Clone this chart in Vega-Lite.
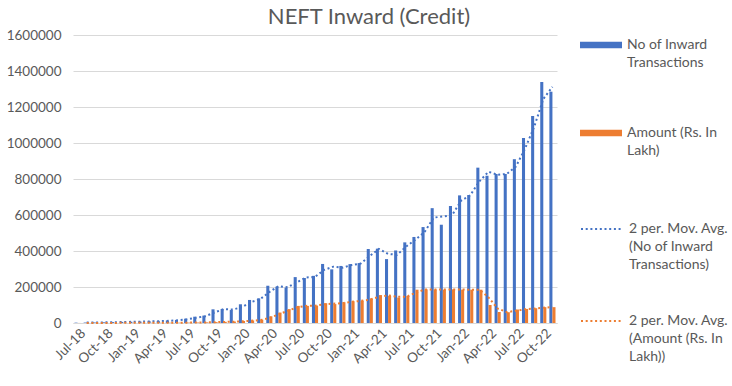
{
  "$schema": "https://vega.github.io/schema/vega-lite/v6.json",
  "width": 484,
  "height": 288,
  "autosize": "none",
  "padding": {"left": 73, "top": 35, "right": 175, "bottom": 63},
  "background": "white",
  "title": {"text": "NEFT Inward (Credit)", "font": "Lato", "fontSize": 22, "fontWeight": "normal", "color": "#595959", "dx": 54, "offset": 0, "dy": 5},
  "datasets": {
    "d": [
      {"m": "Jul-18", "t": 2000, "a": 300},
      {"m": "Aug-18", "t": 2500, "a": 400, "tm": 2250, "am": 350},
      {"m": "Sep-18", "t": 3000, "a": 500, "tm": 2750, "am": 450},
      {"m": "Oct-18", "t": 4000, "a": 600, "tm": 3500, "am": 550},
      {"m": "Nov-18", "t": 5000, "a": 700, "tm": 4500, "am": 650},
      {"m": "Dec-18", "t": 6000, "a": 800, "tm": 5500, "am": 750},
      {"m": "Jan-19", "t": 7000, "a": 900, "tm": 6500, "am": 850},
      {"m": "Feb-19", "t": 8000, "a": 1000, "tm": 7500, "am": 950},
      {"m": "Mar-19", "t": 10000, "a": 1200, "tm": 9000, "am": 1100},
      {"m": "Apr-19", "t": 11000, "a": 1300, "tm": 10500, "am": 1250},
      {"m": "May-19", "t": 13000, "a": 1500, "tm": 12000, "am": 1400},
      {"m": "Jun-19", "t": 17000, "a": 1800, "tm": 15000, "am": 1650},
      {"m": "Jul-19", "t": 24000, "a": 2200, "tm": 20500, "am": 2000},
      {"m": "Aug-19", "t": 35000, "a": 2800, "tm": 29500, "am": 2500},
      {"m": "Sep-19", "t": 41000, "a": 3500, "tm": 38000, "am": 3150},
      {"m": "Oct-19", "t": 76000, "a": 5000, "tm": 58500, "am": 4250},
      {"m": "Nov-19", "t": 78000, "a": 6500, "tm": 77000, "am": 5750},
      {"m": "Dec-19", "t": 72000, "a": 8000, "tm": 75000, "am": 7250},
      {"m": "Jan-20", "t": 104000, "a": 11000, "tm": 88000, "am": 9500},
      {"m": "Feb-20", "t": 128000, "a": 14000, "tm": 116000, "am": 12500},
      {"m": "Mar-20", "t": 137000, "a": 18000, "tm": 132500, "am": 16000},
      {"m": "Apr-20", "t": 207000, "a": 37000, "tm": 172000, "am": 27500},
      {"m": "May-20", "t": 202000, "a": 58000, "tm": 204500, "am": 47500},
      {"m": "Jun-20", "t": 196000, "a": 77000, "tm": 199000, "am": 67500},
      {"m": "Jul-20", "t": 255000, "a": 95000, "tm": 225500, "am": 86000},
      {"m": "Aug-20", "t": 250000, "a": 95000, "tm": 252500, "am": 95000},
      {"m": "Sep-20", "t": 262000, "a": 97000, "tm": 256000, "am": 96000},
      {"m": "Oct-20", "t": 328000, "a": 110000, "tm": 295000, "am": 103500},
      {"m": "Nov-20", "t": 298000, "a": 105000, "tm": 313000, "am": 107500},
      {"m": "Dec-20", "t": 317000, "a": 115000, "tm": 307500, "am": 110000},
      {"m": "Jan-21", "t": 327000, "a": 121000, "tm": 322000, "am": 118000},
      {"m": "Feb-21", "t": 333000, "a": 124000, "tm": 330000, "am": 122500},
      {"m": "Mar-21", "t": 411000, "a": 136000, "tm": 372000, "am": 130000},
      {"m": "Apr-21", "t": 413000, "a": 155000, "tm": 412000, "am": 145500},
      {"m": "May-21", "t": 355000, "a": 151000, "tm": 384000, "am": 153000},
      {"m": "Jun-21", "t": 403000, "a": 141000, "tm": 379000, "am": 146000},
      {"m": "Jul-21", "t": 448000, "a": 150000, "tm": 425500, "am": 145500},
      {"m": "Aug-21", "t": 478000, "a": 185000, "tm": 463000, "am": 167500},
      {"m": "Sep-21", "t": 533000, "a": 187000, "tm": 505500, "am": 186000},
      {"m": "Oct-21", "t": 638000, "a": 186000, "tm": 585500, "am": 186500},
      {"m": "Nov-21", "t": 546000, "a": 185000, "tm": 592000, "am": 185500},
      {"m": "Dec-21", "t": 650000, "a": 187000, "tm": 598000, "am": 186000},
      {"m": "Jan-22", "t": 709000, "a": 185000, "tm": 679500, "am": 186000},
      {"m": "Feb-22", "t": 711000, "a": 185000, "tm": 710000, "am": 185000},
      {"m": "Mar-22", "t": 863000, "a": 185000, "tm": 787000, "am": 185000},
      {"m": "Apr-22", "t": 818000, "a": 100000, "tm": 840500, "am": 142500},
      {"m": "May-22", "t": 828000, "a": 61000, "tm": 823000, "am": 80500},
      {"m": "Jun-22", "t": 828000, "a": 60000, "tm": 828000, "am": 60500},
      {"m": "Jul-22", "t": 910000, "a": 75000, "tm": 869000, "am": 67500},
      {"m": "Aug-22", "t": 1028000, "a": 78000, "tm": 969000, "am": 76500},
      {"m": "Sep-22", "t": 1150000, "a": 82000, "tm": 1089000, "am": 80000},
      {"m": "Oct-22", "t": 1339000, "a": 88000, "tm": 1244500, "am": 85000},
      {"m": "Nov-22", "t": 1285000, "a": 88000, "tm": 1312000, "am": 88000}
    ]
  },
  "data": {"name": "d"},
  "encoding": {
    "x": {
      "field": "m", "type": "ordinal", "sort": null,
      "scale": {"paddingInner": 0.33, "paddingOuter": 0.165},
      "axis": {
        "title": null, "labelAngle": -45, "labelAlign": "right", "labelBaseline": "middle",
        "labelPadding": 8, "labelOffset": 6, "labelFontSize": 13.5, "labelOverlap": false,
        "values": ["Jul-18","Oct-18","Jan-19","Apr-19","Jul-19","Oct-19","Jan-20","Apr-20","Jul-20","Oct-20","Jan-21","Apr-21","Jul-21","Oct-21","Jan-22","Apr-22","Jul-22","Oct-22"],
        "ticks": false, "domainColor": "#D9D9D9", "domainWidth": 1, "grid": false
      }
    },
    "y": {
      "field": "v", "type": "quantitative",
      "scale": {"domain": [0, 1600000], "nice": false},
      "axis": {"title": null, "values": [0,200000,400000,600000,800000,1000000,1200000,1400000,1600000], "format": "d", "grid": true, "gridColor": "#D9D9D9", "domain": false, "ticks": false, "labelPadding": 12, "labelFontSize": 13.5, "labelOverlap": false}
    }
  },
  "layer": [
    {
      "transform": [{"fold": ["t", "a"], "as": ["s", "v"]}],
      "mark": {"type": "bar"},
      "encoding": {
        "xOffset": {"field": "s", "type": "nominal", "sort": ["t", "a"], "scale": {"paddingInner": 0, "paddingOuter": 0}},
        "fill": {
          "field": "s", "type": "nominal",
          "scale": {"domain": ["t", "a"], "range": ["#4472C4", "#ED7D31"]},
          "legend": {
            "title": null, "orient": "none", "legendX": 507, "legendY": -11,
            "symbolType": "M-1,-0.16H1V0.16H-1Z", "symbolSize": 1764, "symbolStrokeWidth": 0,
            "labelOffset": 5, "rowPadding": 42,
            "labelExpr": "datum.value == 't' ? ['No of Inward', 'Transactions'] : ['Amount (Rs. In', 'Lakh)']"
          }
        }
      }
    },
    {
      "transform": [{"fold": ["tm", "am"], "as": ["s", "v"]}],
      "mark": {"type": "line", "strokeWidth": 2, "strokeDash": [2, 2.7]},
      "encoding": {
        "stroke": {
          "field": "s", "type": "nominal",
          "scale": {"domain": ["tm", "am"], "range": ["#4472C4", "#ED7D31"]},
          "legend": {
            "title": null, "orient": "none", "legendX": 507, "legendY": 172,
            "symbolType": "stroke", "symbolSize": 1764, "symbolStrokeWidth": 2, "symbolDash": [2, 2.7],
            "labelOffset": 5, "rowPadding": 27,
            "labelExpr": "datum.value == 'tm' ? ['2 per. Mov. Avg.', '(No of Inward', 'Transactions)'] : ['2 per. Mov. Avg.', '(Amount (Rs. In', 'Lakh))']"
          }
        }
      }
    }
  ],
  "config": {
    "view": {"stroke": null},
    "font": "Lato",
    "axis": {"labelFont": "Lato", "labelColor": "#595959"},
    "legend": {"labelFont": "Lato", "labelFontSize": 14, "labelColor": "#595959", "labelLimit": 300},
    "style": {"guide-label": {"lineHeight": 18}}
  }
}
